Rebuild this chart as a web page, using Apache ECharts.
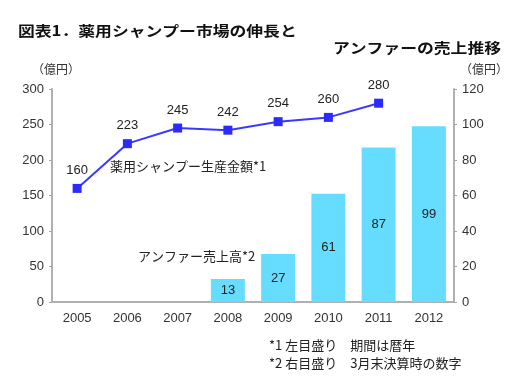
<!DOCTYPE html>
<html>
<head>
<meta charset="utf-8">
<script src="https://cdn.jsdelivr.net/npm/echarts@6/dist/echarts.min.js"></script>
<style>
  html, body { margin: 0; padding: 0; background: #fff; }
  #chart { width: 532px; height: 381px; }
</style>
</head>
<body>
<div id="chart"></div>
<script>
var years = ['2005', '2006', '2007', '2008', '2009', '2010', '2011', '2012'];
var shampooValues = [160, 223, 245, 242, 254, 260, 280, null];
var anferValues = [null, null, null, 13, 27, 61, 87, 99];
var leftTicks = [0, 300, 50];
var rightTicks = [0, 120, 20];

var font = '"Noto Sans CJK JP", sans-serif';
var numFont = 'Arial, "Liberation Sans", sans-serif';
var chart = echarts.init(document.getElementById('chart'));

chart.setOption({
  backgroundColor: '#fff',
  animation: false,
  textStyle: { fontFamily: font },
  grid: { left: 52, right: 78, top: 89, bottom: 79 },
  xAxis: {
    type: 'category',
    data: years,
    axisLine: { lineStyle: { color: '#b0b0b0', width: 2 } },
    axisTick: { inside: true, length: 3, lineStyle: { color: '#a6a6a6' } },
    axisLabel: { color: '#333', fontSize: 13, margin: 10, fontFamily: numFont }
  },
  yAxis: [
    {
      type: 'value', min: leftTicks[0], max: leftTicks[1], interval: leftTicks[2],
      axisLine: { show: true, lineStyle: { color: '#b0b0b0', width: 2 } },
      axisTick: { show: true, length: 3, lineStyle: { color: '#a6a6a6' } },
      splitLine: { show: false },
      axisLabel: { color: '#333', fontSize: 13, margin: 8, fontFamily: numFont }
    },
    {
      type: 'value', min: rightTicks[0], max: rightTicks[1], interval: rightTicks[2],
      position: 'right',
      axisLine: { show: true, lineStyle: { color: '#b0b0b0', width: 2 } },
      axisTick: { show: true, length: 3, lineStyle: { color: '#a6a6a6' } },
      splitLine: { show: false },
      axisLabel: { color: '#333', fontSize: 13, margin: 8, fontFamily: numFont }
    }
  ],
  series: [
    {
      name: 'アンファー売上高*2',
      type: 'bar',
      yAxisIndex: 1,
      data: anferValues,
      barWidth: 34,
      itemStyle: { color: '#66ddff' },
      label: { show: true, position: 'inside', color: '#222', fontSize: 13, fontFamily: numFont }
    },
    {
      name: '薬用シャンプー生産金額*1',
      type: 'line',
      yAxisIndex: 0,
      data: shampooValues,
      symbol: 'rect',
      symbolSize: 9,
      itemStyle: { color: '#2b2bff' },
      lineStyle: { color: '#3a3aff', width: 2 },
      label: { show: true, position: 'top', distance: 7, color: '#222', fontSize: 13, fontFamily: numFont }
    }
  ],
  graphic: [
    { type: 'text', x: 18, y: 24, scaleX: 1.2, style: { text: '図表1．薬用シャンプー市場の伸長と', font: 'bold 14px ' + font, fill: '#111' } },
    { type: 'text', x: 333, y: 41, scaleX: 1.2, style: { text: 'アンファーの売上推移', font: 'bold 14px ' + font, fill: '#111' } },
    { type: 'text', left: 32, top: 63, style: { text: '（億円）', font: '12px ' + font, fill: '#333' } },
    { type: 'text', left: 460, top: 63, style: { text: '（億円）', font: '12px ' + font, fill: '#333' } },
    { type: 'text', left: 110, top: 160, style: { text: '薬用シャンプー生産金額*1', font: '13px ' + font, fill: '#222' } },
    { type: 'text', left: 138, top: 250, style: { text: 'アンファー売上高*2', font: '13px ' + font, fill: '#222' } },
    { type: 'text', left: 269, top: 339, style: { text: '*1 左目盛り　期間は暦年', font: '13px ' + font, fill: '#222' } },
    { type: 'text', left: 269, top: 357, style: { text: '*2 右目盛り　3月末決算時の数字', font: '13px ' + font, fill: '#222' } }
  ]
});
</script>
</body>
</html>
